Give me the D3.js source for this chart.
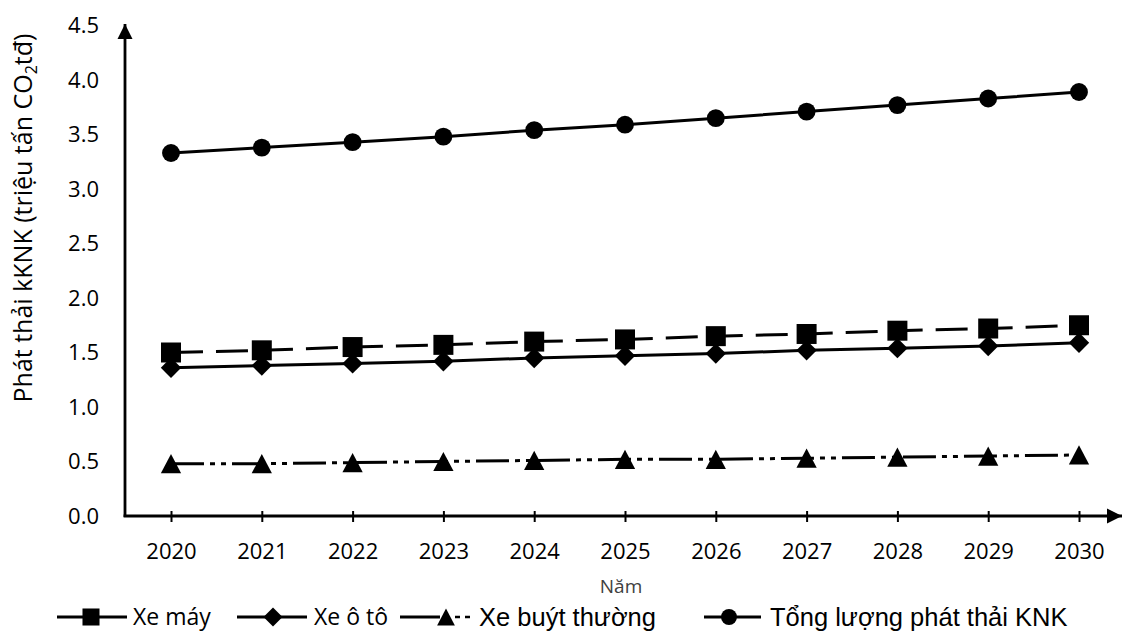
<!DOCTYPE html>
<html>
<head>
<meta charset="utf-8">
<script src="https://cdn.jsdelivr.net/npm/d3@7"></script>
<style>
  html, body { margin: 0; padding: 0; background: #fff; }
  svg { display: block; }
</style>
</head>
<body>
<svg id="chart" width="1123" height="639"></svg>
<script>
// Years on the horizontal axis
const years = ["2020", "2021", "2022", "2023", "2024", "2025", "2026", "2027", "2028", "2029", "2030"];

// Emissions by vehicle type (million tonnes CO2 equivalent)
const xeMay  = [1.50, 1.52, 1.55, 1.57, 1.60, 1.62, 1.65, 1.67, 1.70, 1.72, 1.75];
const xeOto  = [1.36, 1.38, 1.40, 1.42, 1.45, 1.47, 1.49, 1.52, 1.54, 1.56, 1.59];
const xeBuyt = [0.48, 0.48, 0.49, 0.50, 0.51, 0.52, 0.52, 0.53, 0.54, 0.55, 0.56];
const tong   = [3.33, 3.38, 3.43, 3.48, 3.54, 3.59, 3.65, 3.71, 3.77, 3.83, 3.89];

const yTicks = [0, 0.5, 1.0, 1.5, 2.0, 2.5, 3.0, 3.5, 4.0, 4.5];

const seriesNames = ["Xe máy", "Xe ô tô", "Xe buýt thường", "Tổng lượng phát thải KNK"];

const svg = d3.select("#chart");
const calibriLike = "'Open Sans', 'Noto Sans', sans-serif";
const arialLike = "'Liberation Sans', Arial, sans-serif";

const axisLeftX = 125, axisBottomY = 516;

const x = d3.scalePoint().domain(years).range([171, 1079]);
const y = d3.scaleLinear().domain([0, 4.5]).range([axisBottomY, 25.5]);

// Arrow heads for the axes
const defs = svg.append("defs");
defs.append("marker")
  .attr("id", "arrow")
  .attr("viewBox", "0 0 10 10")
  .attr("refX", 10).attr("refY", 5)
  .attr("markerWidth", 5.4).attr("markerHeight", 5.4)
  .attr("markerUnits", "strokeWidth")
  .attr("orient", "auto")
  .append("path").attr("d", "M0,0 L10,5 L0,10 Z").attr("fill", "#000");

// Y axis labels
const yAxis = d3.axisLeft(y).tickValues(yTicks).tickSize(0).tickPadding(26)
  .tickFormat(d3.format(".1f"));
const gy = svg.append("g").attr("transform", `translate(${axisLeftX},0)`).call(yAxis);
gy.select(".domain").remove();
gy.selectAll("text").attr("font-family", calibriLike).attr("font-size", 22).attr("fill", "#000");

// X axis labels and crossing ticks
const xAxis = d3.axisBottom(x).tickSize(0);
const gx = svg.append("g").attr("transform", `translate(0,${axisBottomY})`).call(xAxis);
gx.select(".domain").remove();
gx.selectAll(".tick line").attr("y1", -5).attr("y2", 6).attr("stroke", "#000").attr("stroke-width", 2);
gx.selectAll("text").attr("dy", null).attr("y", 43)
  .attr("font-family", calibriLike).attr("font-size", 22).attr("fill", "#000");

// Axis lines with arrows
svg.append("line")
  .attr("x1", axisLeftX).attr("y1", axisBottomY + 1)
  .attr("x2", axisLeftX).attr("y2", 24)
  .attr("stroke", "#000").attr("stroke-width", 2.8).attr("marker-end", "url(#arrow)");
svg.append("line")
  .attr("x1", axisLeftX - 1.4).attr("y1", axisBottomY)
  .attr("x2", 1122).attr("y2", axisBottomY)
  .attr("stroke", "#000").attr("stroke-width", 2.8).attr("marker-end", "url(#arrow)");

// Axis titles
const yTitle = svg.append("text")
  .attr("transform", "translate(32,218) rotate(-90)")
  .attr("text-anchor", "middle")
  .attr("font-family", calibriLike).attr("font-size", 25).attr("fill", "#000");
yTitle.append("tspan").text("Phát thải kKNK (triệu tấn CO");
yTitle.append("tspan").attr("font-size", 16).attr("dy", 5).text("2");
yTitle.append("tspan").attr("dy", -5).text("tđ)");

svg.append("text")
  .attr("x", 621).attr("y", 593)
  .attr("text-anchor", "middle")
  .attr("font-family", calibriLike).attr("font-size", 19).attr("fill", "#404040")
  .text("Năm");

// Marker shapes; the triangle is centred on its bounding box
const triangleBox = {
  draw(context, size) {
    const w = Math.sqrt(size * 2 / 0.95);
    const h = w * 0.95;
    context.moveTo(0, -h / 2);
    context.lineTo(w / 2, h / 2);
    context.lineTo(-w / 2, h / 2);
    context.closePath();
  }
};
const sym = {
  square: d3.symbol().type(d3.symbolSquare),
  diamond: d3.symbol().type(d3.symbolDiamond2),
  triangle: d3.symbol().type(triangleBox),
  circle: d3.symbol().type(d3.symbolCircle)
};

const series = [
  { name: seriesNames[0], values: xeMay,  dash: "32,13",             shape: "square",   size: 400 },
  { name: seriesNames[1], values: xeOto,  dash: null,                shape: "diamond",  size: 265 },
  { name: seriesNames[2], values: xeBuyt, dash: "33,6,5,6,5,6",      shape: "triangle", size: 195 },
  { name: seriesNames[3], values: tong,   dash: null,                shape: "circle",   size: 250 }
];

const line = d3.line().x((d, i) => x(years[i])).y(d => y(d));

series.forEach(s => {
  svg.append("path")
    .attr("d", line(s.values))
    .attr("fill", "none")
    .attr("stroke", "#000")
    .attr("stroke-width", 3)
    .attr("stroke-dasharray", s.dash);
  svg.append("g").selectAll("path")
    .data(s.values)
    .join("path")
    .attr("transform", (d, i) => `translate(${x(years[i])},${y(d)})`)
    .attr("d", sym[s.shape].size(s.size)())
    .attr("fill", "#000");
});

// Legend
const legendY = 617;
const legend = svg.append("g");
const legendItems = [
  { s: series[0], x1: 57,  x2: 127, mx: 91,  tx: 133, font: calibriLike, fs: 23,   msize: 290, tail: false },
  { s: series[1], x1: 237, x2: 307, mx: 273, tx: 314, font: calibriLike, fs: 23,   msize: 230, tail: false },
  { s: series[2], x1: 400, x2: 440, mx: 446, tx: 479, font: arialLike,   fs: 25.5, msize: 150, tail: true },
  { s: series[3], x1: 704, x2: 761, mx: 729, tx: 770, font: arialLike,   fs: 25.5, msize: 200, tail: false }
];
legendItems.forEach(it => {
  legend.append("line")
    .attr("x1", it.x1).attr("x2", it.x2).attr("y1", legendY).attr("y2", legendY)
    .attr("stroke", "#000").attr("stroke-width", 3);
  if (it.tail) {
    legend.append("line")
      .attr("x1", it.mx + 9).attr("x2", it.tx - 4).attr("y1", legendY).attr("y2", legendY)
      .attr("stroke", "#000").attr("stroke-width", 2.5).attr("stroke-dasharray", "5,5");
  }
  legend.append("path")
    .attr("transform", `translate(${it.mx},${legendY})`)
    .attr("d", sym[it.s.shape].size(it.msize)())
    .attr("fill", "#000");
  legend.append("text")
    .attr("x", it.tx).attr("y", legendY)
    .attr("dy", "0.35em")
    .attr("font-family", it.font).attr("font-size", it.fs).attr("fill", "#000")
    .text(it.s.name);
});
</script>
</body>
</html>
